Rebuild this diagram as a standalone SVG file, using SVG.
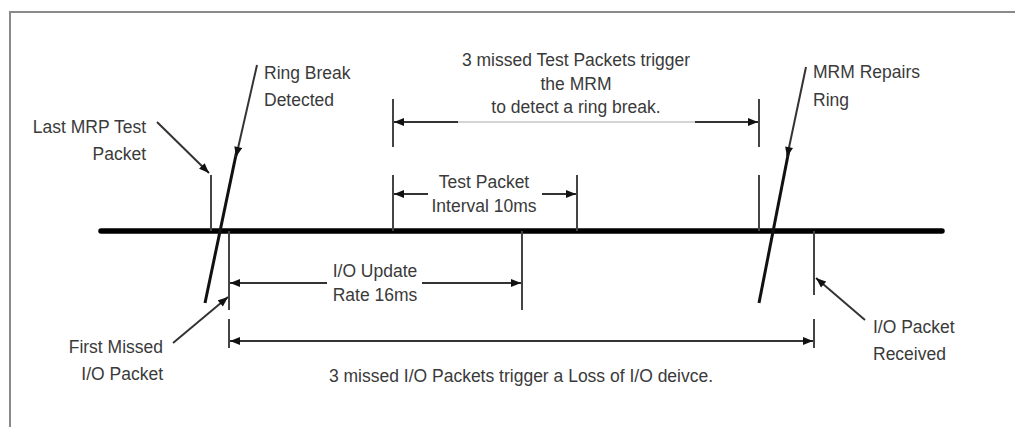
<svg xmlns="http://www.w3.org/2000/svg" width="1015" height="427" viewBox="0 0 1015 427">
<style>
text{font-family:"Liberation Sans",Arial,sans-serif;font-size:17.5px;fill:#3a3a3a}
.m{text-anchor:middle}.e{text-anchor:end}
.ln{stroke:#333;stroke-width:2;fill:none}
.tk{stroke:#444;stroke-width:2;fill:none}
.br{stroke:#111;stroke-width:3;fill:none}
</style>
<defs>
<marker id="ah" viewBox="0 0 10 8" refX="10" refY="4" markerWidth="11" markerHeight="8" markerUnits="userSpaceOnUse" orient="auto">
<path d="M0,0 L10,4 L0,8 Z" fill="#111"/>
</marker>
</defs>
<path d="M10,427 V12 H1015" fill="none" stroke="#8a8a8a" stroke-width="2"/>
<g id="timeline">
<line x1="101" y1="231" x2="942" y2="231" stroke="#000" stroke-width="5.5" stroke-linecap="round"/>
</g>
<g id="connectors">
<!-- ticks -->
<line class="tk" x1="211" y1="175" x2="211" y2="231"/>
<line class="tk" x1="229" y1="231" x2="229" y2="310"/>
<line class="tk" x1="229" y1="319" x2="229" y2="348"/>
<line class="tk" x1="393" y1="99" x2="393" y2="147"/>
<line class="tk" x1="393" y1="175" x2="393" y2="231"/>
<line class="tk" x1="577" y1="175" x2="577" y2="231"/>
<line class="tk" x1="522" y1="231" x2="522" y2="310"/>
<line class="tk" x1="759" y1="99" x2="759" y2="147"/>
<line class="tk" x1="759" y1="175" x2="759" y2="231"/>
<line class="tk" x1="814" y1="231" x2="814" y2="295"/>
<line class="tk" x1="814" y1="319" x2="814" y2="348"/>
<!-- break lines -->
<line class="br" x1="237" y1="150" x2="205" y2="303"/>
<line class="br" x1="789" y1="150" x2="759" y2="303"/>
<!-- leaders -->
<line class="ln" x1="257" y1="65" x2="236" y2="157" marker-end="url(#ah)"/>
<line class="ln" x1="806" y1="67" x2="787" y2="157" marker-end="url(#ah)"/>
<line class="ln" x1="157" y1="122" x2="209" y2="173" marker-end="url(#ah)"/>
<line class="ln" x1="173" y1="343" x2="228" y2="297" marker-end="url(#ah)"/>
<line class="ln" x1="865" y1="320" x2="816" y2="278" marker-end="url(#ah)"/>
<!-- dimension arrows -->
<line class="ln" x1="458" y1="122" x2="394" y2="122" marker-end="url(#ah)"/>
<line x1="458" y1="122" x2="695" y2="122" stroke="#aaa" stroke-width="1.2"/>
<line class="ln" x1="695" y1="122" x2="758" y2="122" marker-end="url(#ah)"/>
<line class="ln" x1="428" y1="194" x2="394" y2="194" marker-end="url(#ah)"/>
<line class="ln" x1="542" y1="194" x2="576" y2="194" marker-end="url(#ah)"/>
<line class="ln" x1="327" y1="283" x2="230" y2="283" marker-end="url(#ah)"/>
<line class="ln" x1="422" y1="283" x2="521" y2="283" marker-end="url(#ah)"/>
<line class="ln" x1="230" y1="341" x2="813" y2="341" marker-end="url(#ah)"/>
<line class="ln" x1="520" y1="341" x2="230" y2="341" marker-end="url(#ah)"/>
</g>
<g id="ring-break">
<text x="264" y="79">Ring Break</text>
<text x="264" y="106">Detected</text>
</g>
<g id="last-mrp">
<text class="e" x="146" y="133">Last MRP Test</text>
<text class="e" x="146" y="160">Packet</text>
</g>
<g id="missed-test">
<text class="m" x="576" y="66">3 missed Test Packets trigger</text>
<text class="m" x="576" y="90">the MRM</text>
<text class="m" x="576" y="113">to detect a ring break.</text>
</g>
<g id="mrm-repairs">
<text x="813" y="78">MRM Repairs</text>
<text x="813" y="106">Ring</text>
</g>
<g id="test-interval">
<text class="m" x="484" y="188">Test Packet</text>
<text class="m" x="484" y="212">Interval 10ms</text>
</g>
<g id="io-update">
<text class="m" x="375" y="277">I/O Update</text>
<text class="m" x="375" y="301">Rate 16ms</text>
</g>
<g id="first-missed">
<text class="e" x="163" y="353">First Missed</text>
<text class="e" x="163" y="380">I/O Packet</text>
</g>
<g id="io-received">
<text x="873" y="333">I/O Packet</text>
<text x="873" y="360">Received</text>
</g>
<g id="missed-io">
<text class="m" x="521" y="382">3 missed I/O Packets trigger a Loss of I/O deivce.</text>
</g>
</svg>
